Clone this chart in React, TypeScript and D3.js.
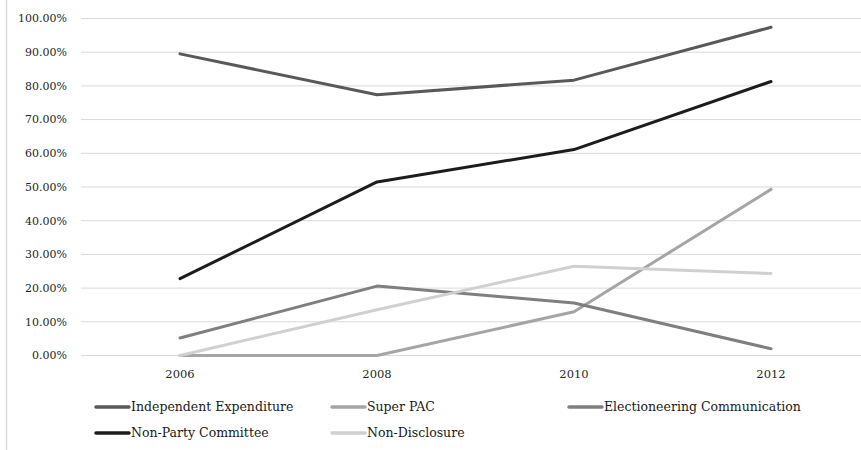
import React from "react";
import * as d3 from "d3";

const years = ["2006", "2008", "2010", "2012"];
const independentExpenditure = [89.5, 77.4, 81.7, 97.4];
const superPac = [0, 0, 13.0, 49.3];
const electioneering = [5.2, 20.6, 15.6, 2.0];
const nonPartyCommittee = [22.8, 51.5, 61.1, 81.3];
const nonDisclosure = [0, 13.6, 26.5, 24.3];
const yTicks = [0, 10, 20, 30, 40, 50, 60, 70, 80, 90, 100];

const series = [
  { name: "Independent Expenditure", values: independentExpenditure, color: "#595959" },
  { name: "Super PAC", values: superPac, color: "#a5a5a5" },
  { name: "Electioneering Communication", values: electioneering, color: "#7f7f7f" },
  { name: "Non-Party Committee", values: nonPartyCommittee, color: "#1c1c1c" },
  { name: "Non-Disclosure", values: nonDisclosure, color: "#d0d0d0" },
];

const W = 861;
const H = 450;
const serif = "'DejaVu Serif', 'Liberation Serif', serif";

export default function App() {
  const x = d3.scaleBand<string>().domain(years).range([81.5, 869.5]);
  const y = d3.scaleLinear().domain([0, 100]).range([355.5, 18.5]);
  const cx = (yr: string) => (x(yr) ?? 0) + x.bandwidth() / 2;
  const line = d3
    .line<number>()
    .x((_, i) => cx(years[i]))
    .y((v) => y(v));

  // legend placement: two rows, three columns
  const legendCols = [96, 332, 569];
  const legendRows = [407, 433];
  const legendPos = [
    [0, 0],
    [1, 0],
    [2, 0],
    [0, 1],
    [1, 1],
  ];

  return (
    <svg
      width={W}
      height={H}
      style={{ position: "absolute", left: 0, top: 0, background: "#fff" }}
    >
      <rect x={0} y={0} width={W} height={H} fill="#fff" />
      <line x1={6.5} x2={6.5} y1={0} y2={H} stroke="#d9d9d9" strokeWidth={1.5} />
      {yTicks.map((t) => (
        <g key={t}>
          <line x1={81} x2={W} y1={y(t)} y2={y(t)} stroke="#d9d9d9" strokeWidth={1} />
          <text
            x={67}
            y={y(t)}
            dy="0.35em"
            textAnchor="end"
            fontFamily={serif}
            fontSize={11}
            fill="#262626"
          >
            {d3.format(".2f")(t) + "%"}
          </text>
        </g>
      ))}
      {years.map((yr) => (
        <text
          key={yr}
          x={cx(yr)}
          y={378}
          textAnchor="middle"
          fontFamily={serif}
          fontSize={11.5}
          fill="#262626"
        >
          {yr}
        </text>
      ))}
      {series.map((s) => (
        <path
          key={s.name}
          d={line(s.values) ?? ""}
          fill="none"
          stroke={s.color}
          strokeWidth={3}
          strokeLinecap="round"
          strokeLinejoin="round"
        />
      ))}
      {series.map((s, i) => {
        const [c, r] = legendPos[i];
        const lx = legendCols[c];
        const ly = legendRows[r];
        return (
          <g key={s.name}>
            <line
              x1={lx}
              x2={lx + 33}
              y1={ly}
              y2={ly}
              stroke={s.color}
              strokeWidth={3.5}
              strokeLinecap="round"
            />
            <text
              x={lx + 35}
              y={ly}
              dy="0.35em"
              fontFamily={serif}
              fontSize={12.5}
              fill="#1a1a1a"
            >
              {s.name}
            </text>
          </g>
        );
      })}
    </svg>
  );
}
